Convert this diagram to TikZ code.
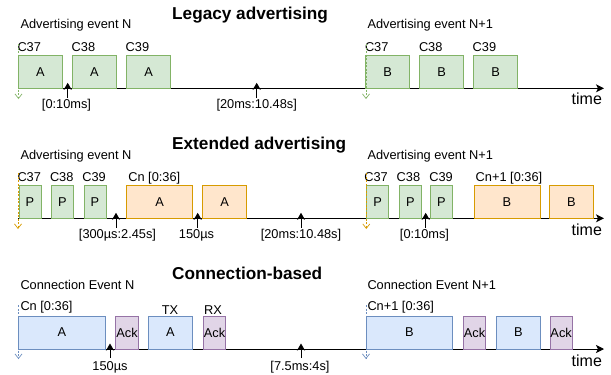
\documentclass[tikz,border=0pt]{standalone}
\usepackage{fontspec}
\setmainfont{Liberation Sans}
\usetikzlibrary{arrows.meta}

\definecolor{gfill}{HTML}{D5E8D4}
\definecolor{gline}{HTML}{82B366}
\definecolor{ofill}{HTML}{FFE6CC}
\definecolor{oline}{HTML}{D79B00}
\definecolor{bfill}{HTML}{DAE8FC}
\definecolor{bline}{HTML}{6C8EBF}
\definecolor{pfill}{HTML}{E1D5E7}
\definecolor{pline}{HTML}{9673A6}

\begin{document}
\begin{tikzpicture}[x=1pt,y=-1pt,
  lbl/.style={font=\fontsize{12.8}{15}\selectfont, inner sep=0pt, outer sep=0pt},
  ttl/.style={font=\fontsize{17.2}{20}\selectfont\bfseries, inner sep=0pt, anchor=base west},
  timelbl/.style={font=\fontsize{16}{19}\selectfont, inner sep=0pt, anchor=base west},
  slot/.style={lbl, line width=0.9pt, anchor=south west},
  advslot/.style={slot, fill=gfill, draw=gline, minimum height=32.6pt},
  extslot/.style={slot, fill=ofill, draw=oline, minimum height=32.6pt},
  conslot/.style={slot, fill=bfill, draw=bline, minimum height=33pt},
  ackslot/.style={slot, fill=pfill, draw=pline, minimum height=33pt},
  timeaxis/.style={line width=0.9pt, -{Stealth[length=8pt,width=8pt,inset=2pt]}},
  tickarrow/.style={line width=0.9pt, -{Stealth[length=7pt,width=8pt,inset=2pt]}},
  evstart/.style={dash pattern=on 2pt off 1.5pt, line width=0.7pt,
                  -{Straight Barb[length=4.5pt,width=7pt]}},
]
\useasboundingbox (0,0) rectangle (611,375);

% ---------------- Legacy advertising ----------------
\node[ttl] (ttlA) at (172,19) {Legacy advertising};
\node[lbl, anchor=base west] (evA1) at (20.5,28) {Advertising event N};
\node[lbl, anchor=base west] (evA2) at (367.5,28) {Advertising event N+1};

\coordinate (axA0) at (18,88.3);
\coordinate (axA1) at (604,88.3);
\draw[timeaxis] (axA0) -- (axA1);
\node[timelbl] (timeA) at (571.5,104.5) {time};

\node[lbl, anchor=base west] (chA1) at (17.5,51.7) {C37};
\node[lbl, anchor=base west] (chA2) at (71.7,51.7) {C38};
\node[lbl, anchor=base west] (chA3) at (125.7,51.7) {C39};
\node[lbl, anchor=base west] (chA4) at (365,51.7) {C37};
\node[lbl, anchor=base west] (chA5) at (419,51.7) {C38};
\node[lbl, anchor=base west] (chA6) at (472.7,51.7) {C39};

\node[advslot, minimum width=44pt] (a1) at (18.3,88.3) {A};
\node[advslot, minimum width=44pt] (a2) at (72.5,88.3) {A};
\node[advslot, minimum width=44pt] (a3) at (126.7,88.3) {A};
\node[advslot, minimum width=44pt] (b1) at (365.7,88.3) {B};
\node[advslot, minimum width=44pt] (b2) at (419.7,88.3) {B};
\node[advslot, minimum width=44pt] (b3) at (473.7,88.3) {B};

\coordinate (sA1t) at (18.5,44);  \coordinate (sA1b) at (18.5,99);
\coordinate (sA2t) at (366,44);   \coordinate (sA2b) at (366,99);
\draw[evstart, gline] (sA1t) -- (sA1b);
\draw[evstart, gline] (sA2t) -- (sA2b);

\node[lbl, anchor=base] (dA1) at (66.5,108) {[0:10ms]};
\node[lbl, anchor=base] (dA2) at (256.7,108) {[20ms:10.48s]};
\coordinate (kA1t) at (67.7,82.8);  \coordinate (kA1b) at (67.7,98);
\coordinate (kA2t) at (256.7,82.8); \coordinate (kA2b) at (256.7,98);
\draw[tickarrow] (kA1b) -- (kA1t);
\draw[tickarrow] (kA2b) -- (kA2t);

% ---------------- Extended advertising ----------------
\node[ttl] (ttlB) at (172,149.5) {Extended advertising};
\node[lbl, anchor=base west] (evB1) at (20.5,159.3) {Advertising event N};
\node[lbl, anchor=base west] (evB2) at (367.5,159.3) {Advertising event N+1};

\coordinate (axB0) at (18,218.3);
\coordinate (axB1) at (604,218.3);
\draw[timeaxis] (axB0) -- (axB1);
\node[timelbl] (timeB) at (571.5,235) {time};

\node[lbl, anchor=base west] (chB1) at (17.5,181) {C37};
\node[lbl, anchor=base west] (chB2) at (50,181) {C38};
\node[lbl, anchor=base west] (chB3) at (82.3,181) {C39};
\node[lbl, anchor=base west] (chB4) at (364.3,181) {C37};
\node[lbl, anchor=base west] (chB5) at (396.7,181) {C38};
\node[lbl, anchor=base west] (chB6) at (429.3,181) {C39};
\node[lbl, anchor=base west] (cnB1) at (128.3,181) {Cn [0:36]};
\node[lbl, anchor=base west] (cnB2) at (475.7,181) {Cn+1 [0:36]};

\node[advslot, minimum width=22pt] (p1) at (19,218.3) {P};
\node[advslot, minimum width=22pt] (p2) at (51.3,218.3) {P};
\node[advslot, minimum width=22pt] (p3) at (84,218.3) {P};
\node[extslot, minimum width=66pt] (ea1) at (126.7,218.3) {A};
\node[extslot, minimum width=44pt] (ea2) at (202.7,218.3) {A};
\node[advslot, minimum width=22pt] (q1) at (366.7,218.3) {P};
\node[advslot, minimum width=22pt] (q2) at (399.3,218.3) {P};
\node[advslot, minimum width=22pt] (q3) at (430.5,218.3) {P};
\node[extslot, minimum width=66pt] (eb1) at (474,218.3) {B};
\node[extslot, minimum width=44pt] (eb2) at (549.5,218.3) {B};

\coordinate (sB1t) at (18,173);  \coordinate (sB1b) at (18,229);
\coordinate (sB2t) at (366.3,173); \coordinate (sB2b) at (366.3,229);
\draw[evstart, oline] (sB1t) -- (sB1b);
\draw[evstart, oline] (sB2t) -- (sB2b);

\node[lbl, anchor=base] (dB1) at (117.5,238) {[300µs:2.45s]};
\node[lbl, anchor=base] (dB2) at (196.5,238) {150µs};
\node[lbl, anchor=base] (dB3) at (301,238) {[20ms:10.48s]};
\node[lbl, anchor=base] (dB4) at (424.5,238) {[0:10ms]};
\coordinate (kB1t) at (116,212.8);   \coordinate (kB1b) at (116,227.5);
\coordinate (kB2t) at (197.7,212.8); \coordinate (kB2b) at (197.7,227.5);
\coordinate (kB3t) at (301,212.8);   \coordinate (kB3b) at (301,227.5);
\coordinate (kB4t) at (425.7,212.8); \coordinate (kB4b) at (425.7,227.5);
\draw[tickarrow] (kB1b) -- (kB1t);
\draw[tickarrow] (kB2b) -- (kB2t);
\draw[tickarrow] (kB3b) -- (kB3t);
\draw[tickarrow] (kB4b) -- (kB4t);

% ---------------- Connection-based ----------------
\node[ttl] (ttlC) at (172,279) {Connection-based};
\node[lbl, anchor=base west] (evC1) at (20.5,289) {Connection Event N};
\node[lbl, anchor=base west] (evC2) at (367.5,289) {Connection Event N+1};

\coordinate (axC0) at (18,349);
\coordinate (axC1) at (604,349);
\draw[timeaxis] (axC0) -- (axC1);
\node[timelbl] (timeC) at (571.5,366) {time};

\node[lbl, anchor=base west] (cnC1) at (20.5,310) {Cn [0:36]};
\node[lbl, anchor=base west] (cnC2) at (367.5,310) {Cn+1 [0:36]};
\node[lbl, anchor=base] (txC) at (170,314) {TX};
\node[lbl, anchor=base] (rxC) at (213,314) {RX};

\node[conslot, minimum width=87.4pt] (ca1) at (18.3,349) {A};
\node[ackslot, minimum width=22.6pt] (k1) at (115.7,349) {Ack};
\node[conslot, minimum width=44.4pt] (ca2) at (148.3,349) {A};
\node[ackslot, minimum width=22.4pt] (k2) at (203.3,349) {Ack};
\node[conslot, minimum width=86.7pt] (cb1) at (366,349) {B};
\node[ackslot, minimum width=22.4pt] (k3) at (463.3,349) {Ack};
\node[conslot, minimum width=43.3pt] (cb2) at (496.7,349) {B};
\node[ackslot, minimum width=22.3pt] (k4) at (550,349) {Ack};

\coordinate (sC1t) at (18.5,305);  \coordinate (sC1b) at (18.5,359);
\coordinate (sC2t) at (366,305);   \coordinate (sC2b) at (366,359);
\draw[evstart, bline] (sC1t) -- (sC1b);
\draw[evstart, bline] (sC2t) -- (sC2b);

\node[lbl, anchor=base] (dC1) at (110,370) {150µs};
\node[lbl, anchor=base] (dC2) at (300,370) {[7.5ms:4s]};
\coordinate (kC1t) at (110,343.5); \coordinate (kC1b) at (110,358);
\coordinate (kC2t) at (301,343.5); \coordinate (kC2b) at (301,358);
\draw[tickarrow] (kC1b) -- (kC1t);
\draw[tickarrow] (kC2b) -- (kC2t);
\end{tikzpicture}
\end{document}
